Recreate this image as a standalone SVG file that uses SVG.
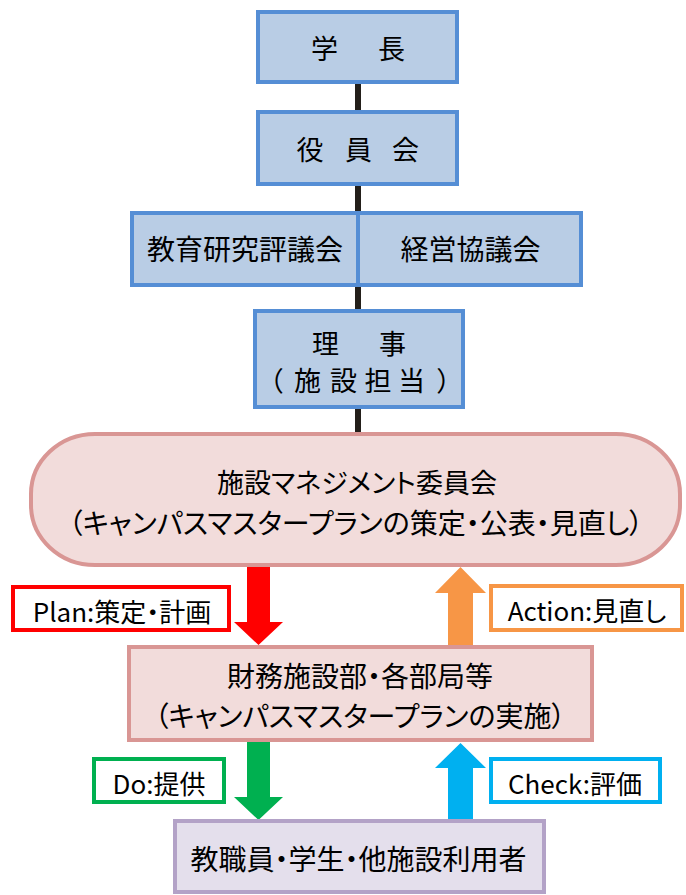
<svg xmlns="http://www.w3.org/2000/svg" width="686" height="895" viewBox="0 0 686 895">
<style>
text{font-family:"Noto Sans CJK JP","Noto Sans",sans-serif;fill:#000;font-feature-settings:"palt";}
.c{text-anchor:middle;dominant-baseline:central;}
.bl{fill:#b9cde5;stroke:#558ed5;stroke-width:4;}
.pk{fill:#f2dcdb;stroke:#d99694;stroke-width:4;}
.pu{fill:#e4dfec;stroke:#b3a2c7;stroke-width:4;}
.lb{fill:#fff;stroke-width:4;}
.t28{font-size:28px;}
.t27{font-size:27px;}
.t26{font-size:26px;}
</style>
<g id="connectors">
<line x1="358" y1="84" x2="358" y2="434" stroke="#231f1a" stroke-width="6"/>
<polygon points="247,565 270,565 270,622 283,622 258.5,645 234,622 247,622" fill="#ff0000"/>
<polygon points="460.5,567 486,593 473,593 473,647 448,647 448,593 435,593" fill="#f79646"/>
<polygon points="247,740 270,740 270,797 283,797 258.5,820 234,797 247,797" fill="#00b050"/>
<polygon points="460.5,743 486,768 473,768 473,821 448,821 448,768 435,768" fill="#00b0f0"/>
</g>
<g id="gakucho">
<rect class="bl" x="258" y="12" width="199" height="70"/>
<text class="c t27" x="324.5 391.5" y="47.5">学長</text>
</g>
<g id="yakuinkai">
<rect class="bl" x="258" y="112" width="199" height="72"/>
<text class="c t27" x="310 358.5 405.5" y="148.5">役員会</text>
</g>
<g id="kyoiku">
<rect class="bl" x="132" y="213" width="226" height="72"/>
<text class="c t28" x="245" y="247.5">教育研究評議会</text>
</g>
<g id="keiei">
<rect class="bl" x="358" y="213" width="223" height="72"/>
<text class="c t28" x="470.5" y="247.5">経営協議会</text>
</g>
<g id="riji">
<rect class="bl" x="255" y="311" width="208" height="96"/>
<text class="c t27" x="325.5 392.5" y="342.5">理事</text>
<text class="c t27" x="276 307.5 343.5 378 411.5 444" y="379">（施設担当）</text>
</g>
<g id="committee">
<rect class="pk" x="31" y="434" width="649" height="131" rx="64" ry="60"/>
<text class="c t27" x="357" y="481.5">施設マネジメント委員会</text>
<text class="c t28" x="356" y="521.5">（キャンパスマスタープランの策定・公表・見直し）</text>
</g>
<g id="plan">
<rect class="lb" x="13" y="587" width="216" height="43" stroke="#ff0000"/>
<text class="c t26" x="122" y="610">Plan:策定・計画</text>
</g>
<g id="action">
<rect class="lb" x="491" y="586" width="191" height="44" stroke="#f79646"/>
<text class="c t26" x="587" y="609">Action:見直し</text>
</g>
<g id="zaimu">
<rect class="pk" x="129" y="647" width="463" height="93"/>
<text class="c t28" x="360" y="674.5">財務施設部・各部局等</text>
<text class="c t28" x="360" y="715">（キャンパスマスタープランの実施）</text>
</g>
<g id="do">
<rect class="lb" x="94" y="759" width="130" height="43" stroke="#00b050"/>
<text class="c t26" x="159" y="782">Do:提供</text>
</g>
<g id="check">
<rect class="lb" x="491" y="759" width="169" height="43" stroke="#00b0f0"/>
<text class="c t26" x="575" y="782">Check:評価</text>
</g>
<g id="users">
<rect class="pu" x="175" y="821" width="369" height="71"/>
<text class="c t28" x="358.5" y="857.5">教職員・学生・他施設利用者</text>
</g>
</svg>
